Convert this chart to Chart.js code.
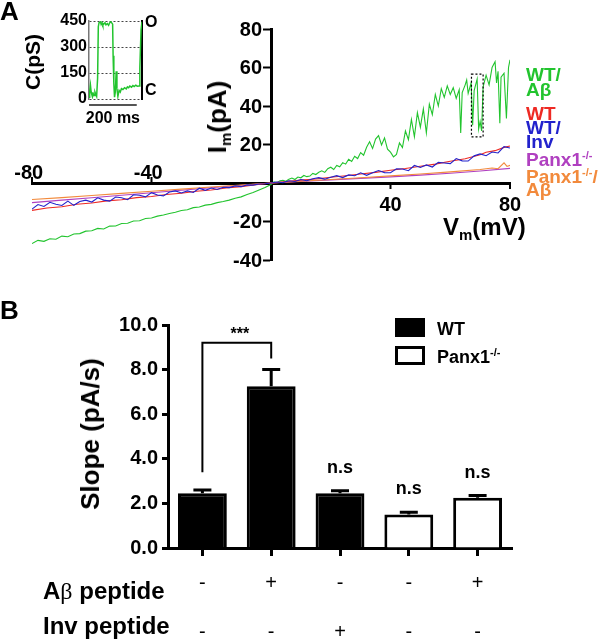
<!DOCTYPE html>
<html>
<head>
<meta charset="utf-8">
<title>Panx1 I/V ramps and slopes</title>
<script src="https://cdn.jsdelivr.net/npm/chart.js@4.4.1/dist/chart.umd.min.js"></script>
<style>
  body { margin: 0; background: #fff; }
  #page { position: relative; width: 602px; height: 640px; overflow: hidden;
          font-family: "Liberation Sans", Arial, sans-serif; font-weight: bold; color: #000; }
  .box { position: absolute; }
  .lbl { position: absolute; white-space: nowrap; line-height: 1; }
  .rot { position: absolute; white-space: nowrap; line-height: 1; transform: translate(-50%, -50%) rotate(-90deg); }
  sup { font-size: 11px; line-height: 0; vertical-align: 7px; }
  sub { font-size: 15px; line-height: 0; vertical-align: -5px; }
  .greek { font-family: "Liberation Serif", serif; font-weight: normal; }
  .swatch { position: absolute; box-sizing: border-box; border: 3px solid #000; }
</style>
</head>
<body>
<div id="page">
  <div class="box" style="left:0;top:0;width:602px;height:290px"><canvas id="ivChart"></canvas></div>
  <div class="box" style="left:0;top:0;width:160px;height:125px"><canvas id="insetChart"></canvas></div>
  <div class="box" style="left:0;top:290px;width:602px;height:350px"><canvas id="slopeChart"></canvas></div>

  <div class="lbl" style="left:0;top:-2px;font-size:26px">A</div>
  <div class="lbl" style="left:0;top:297px;font-size:26px">B</div>

  <!-- panel A titles -->
  <div class="rot" style="left:32px;top:62px;font-size:21px">C(pS)</div>
  <div class="rot" style="left:217px;top:117px;font-size:26px">I<sub>m</sub>(pA)</div>
  <div class="lbl" style="left:443px;top:215px;font-size:24px">V<sub>m</sub>(mV)</div>

  <!-- panel A legend -->
  <div class="lbl" style="left:526px;top:65px;font-size:19px;color:#22c42e">WT/</div>
  <div class="lbl" style="left:526px;top:80px;font-size:19px;color:#22c42e">Aβ</div>
  <div class="lbl" style="left:526px;top:104px;font-size:19px;color:#ee2a24">WT</div>
  <div class="lbl" style="left:526px;top:118px;font-size:19px;color:#2222cc">WT/</div>
  <div class="lbl" style="left:526px;top:132px;font-size:19px;color:#2222cc">Inv</div>
  <div class="lbl" style="left:526px;top:150px;font-size:19px;color:#b040c0">Panx1<sup>-/-</sup></div>
  <div class="lbl" style="left:526px;top:167px;font-size:19px;color:#f28a3c">Panx1<sup>-/-</sup>/</div>
  <div class="lbl" style="left:526px;top:180px;font-size:19px;color:#f28a3c">Aβ</div>

  <!-- panel B titles and legend -->
  <div class="rot" style="left:90px;top:434px;font-size:26px">Slope (pA/s)</div>
  <div class="swatch" style="left:395px;top:318px;width:30px;height:19px;background:#000"></div>
  <div class="swatch" style="left:395px;top:346px;width:30px;height:19px;background:#fff"></div>
  <div class="lbl" style="left:437px;top:320px;font-size:18px">WT</div>
  <div class="lbl" style="left:437px;top:348px;font-size:18px">Panx1<sup>-/-</sup></div>
  <div class="lbl" style="left:43px;top:579px;font-size:24px">A<span class="greek">β</span> peptide</div>
  <div class="lbl" style="left:43px;top:614px;font-size:24px">Inv peptide</div>
</div>

<script>
// ---- panel A: ramp currents, [Vm (mV), Im (pA)]
const wtAbeta = [
  [-80,-31.5],[-78,-29.8],[-76,-30.3],[-74,-29.0],[-72,-29.2],[-70,-27.6],[-68,-27.9],[-66,-26.5],
  [-64,-26.3],[-62,-25.0],[-60,-24.8],[-58,-23.6],[-56,-23.9],[-54,-22.4],[-52,-22.3],[-50,-21.0],
  [-48,-20.9],[-46,-19.7],[-44,-19.6],[-42,-18.4],[-40,-18.2],[-38,-17.2],[-36,-16.6],[-34,-15.8],
  [-32,-15.2],[-30,-14.3],[-28,-13.9],[-26,-12.8],[-24,-12.5],[-22,-11.5],[-20,-11.1],[-18,-10.2],
  [-16,-9.6],[-14,-8.9],[-12,-7.9],[-10,-7.2],[-8,-6.0],[-6,-4.9],[-4,-3.6],[-2,-2.3],[0,-0.8],
  [1,0.6],[2,0.2],[3,1.1],[4,1.4],[5,0.9],[6,2.0],[7,2.6],[8,1.8],[9,3.1],[10,2.7],[11,3.9],
  [12,3.3],[13,3.6],[14,5.0],[15,4.4],[16,5.6],[17,6.3],[18,5.5],[19,7.4],[20,8.2],[21,7.0],
  [22,9.1],[23,8.4],[24,10.6],[25,9.8],[26,12.3],[27,11.2],[28,13.9],[29,12.7],[30,15.8],
  [31,14.4],[32,18.6],[33,21.4],[34,17.9],[35,22.8],[36,24.6],[37,19.8],[38,23.4],[39,17.6],
  [40,16.0],[41,13.6],[42,14.9],[43,20.8],[44,18.4],[45,27.0],[46,22.5],[47,33.0],[48,24.0],
  [49,36.5],[50,29.0],[51,38.5],[52,26.0],[53,41.0],[54,35.5],[55,46.0],[56,40.0],[57,49.0],
  [58,44.5],[59,50.5],[60,46.0],[61,49.5],[62,44.0],[63,48.5],[63.5,26.0],[64,47.0],[65,51.0],
  [65.5,53.5],[66,46.5],[67,52.0],[67.5,30.0],[68,48.0],[69,54.0],[69.5,28.0],[70,32.0],
  [70.5,27.0],[71,50.0],[72,56.0],[73,51.0],[74,60.0],[75,63.0],[75.5,52.0],[76,58.0],
  [76.6,31.0],[77,55.0],[78,57.0],[78.8,33.5],[79.5,60.0],[80,64.0]
];
const wt = [
  [-80,-14.2],[-75,-13.0],[-70,-12.3],[-65,-11.0],[-60,-10.4],[-55,-9.3],[-50,-8.7],[-45,-7.6],
  [-40,-7.0],[-35,-6.0],[-30,-5.3],[-25,-4.3],[-20,-3.6],[-15,-2.6],[-10,-1.9],[-5,-0.9],[0,0],
  [5,0.8],[10,1.5],[15,2.1],[20,3.0],[25,3.8],[30,4.7],[35,5.5],[40,6.6],[45,7.5],[50,8.7],
  [55,9.8],[60,11.3],[65,12.6],[70,14.7],[72,16.0],[75,16.8],[78,18.5],[80,19.2]
];
const wtInv = [
  [-80,-13.6],[-78,-11.2],[-76,-12.2],[-74,-10.0],[-72,-11.0],[-70,-11.7],[-68,-9.4],[-66,-11.6],
  [-64,-9.6],[-62,-8.9],[-60,-9.9],[-58,-7.7],[-56,-8.9],[-54,-9.4],[-52,-7.3],[-50,-7.7],
  [-48,-8.7],[-46,-6.1],[-44,-6.4],[-42,-7.2],[-40,-5.0],[-38,-6.2],[-36,-6.7],[-34,-4.7],
  [-32,-4.1],[-30,-5.2],[-28,-4.1],[-26,-4.9],[-24,-2.7],[-22,-3.8],[-20,-2.6],[-18,-3.4],
  [-16,-2.2],[-14,-2.4],[-12,-1.5],[-10,-1.9],[-8,-1.0],[-6,-1.1],[-4,-0.5],[-2,-0.4],[0,0],
  [2,0.5],[4,0.2],[6,1.2],[8,0.8],[10,1.8],[12,1.2],[14,2.2],[16,2.8],[18,2.0],[20,3.0],
  [22,3.8],[24,2.8],[26,4.2],[28,3.8],[30,5.3],[32,4.0],[34,5.3],[36,6.5],[38,5.4],[40,5.3],
  [42,7.4],[44,7.3],[46,6.4],[48,9.1],[50,8.1],[52,9.4],[54,8.3],[56,10.7],[58,10.4],[60,10.1],
  [62,12.7],[64,11.5],[66,11.4],[68,14.1],[70,15.1],[72,14.2],[74,16.1],[76,15.6],[78,18.9],[80,18.2]
];
const panx = [
  [-80,-10.2],[-70,-8.9],[-60,-7.7],[-50,-6.4],[-40,-5.1],[-30,-3.8],[-20,-2.5],[-10,-1.2],[0,0],
  [10,0.8],[20,1.6],[30,2.4],[40,3.2],[50,4.1],[60,5.1],[70,6.2],[80,7.6]
];
const panxAbeta = [
  [-80,-8.6],[-70,-7.6],[-60,-6.5],[-50,-5.4],[-40,-4.3],[-30,-3.2],[-20,-2.1],[-10,-1.0],[0,0],
  [10,0.9],[20,1.8],[30,2.7],[40,3.7],[50,4.7],[60,5.8],[70,7.0],[74,7.8],[76,7.4],[78,10.5],
  [79,8.6],[80,9.2]
];
const ivXTicks = [-80, -40, 40, 80];
const zoomBox = [67.1, 71.0, 24, 56.6]; // Vm from, Vm to, Im from, Im to

// inset: single channel conductance, [time (ms), C (pS)]
const insetTrace = [
  [0,10],[3,45],[6,80],[9,40],[12,25],[15,15],[18,30],[21,20],[25,40],[29,25],[32,15],[36,120],
  [39,417],[42,440],[48,445],[51,430],[55,440],[58,425],[62,432],[67,440],[71,428],[77,435],
  [82,425],[87,440],[92,445],[96,438],[99,432],[101,250],[104,90],[107,10],[110,40],[114,160],
  [117,60],[121,15],[126,50],[131,40],[136,60],[142,55],[149,65],[156,58],[161,70],[166,65],
  [171,75],[178,68],[184,78],[189,72],[196,80],[202,74],[210,75],[213,180],[218,400],[222,445]
];
const insetTicks = [0, 150, 300, 450];
const insetStateLevels = [50, 440];
const insetStateNames = ['C', 'O'];
const insetBarMs = 200;

// ---- panel B: slopes
const groups = ['WT', 'WT/Aβ', 'WT/Inv', 'Panx1-/-', 'Panx1-/-/Aβ'];
const slopeMean = [2.45, 7.25, 2.45, 1.5, 2.25];
const slopeSem = [0.15, 0.75, 0.12, 0.1, 0.1];
const groupFill = ['#000', '#000', '#000', '#fff', '#fff'];
const abetaSigns = ['-', '+', '-', '-', '+'];
const invSigns = ['-', '-', '+', '-', '-'];
const sigText = ['', '', 'n.s', 'n.s', 'n.s'];
const bracketPair = [0, 1];
const bracketLevels = [9.2, 3.4, 8.5]; // top, left leg end, right leg end
const bracketText = '***';

const FONT = '"Liberation Sans", Arial, sans-serif';
Chart.defaults.font.family = FONT;
Chart.defaults.color = '#000';

function toXY(arr) {
    return arr.map(p => ({ x: p[0], y: p[1] }));
}

function trace(data, color) {
    return { data: toXY(data), borderColor: color, borderWidth: 1.1, pointRadius: 0, tension: 0 };
}

// axis labels and the dotted box for panel A
const ivExtras = {
    id: 'ivExtras',
    afterDraw(chart) {
        const { ctx, scales: { x, y } } = chart;
        const x0 = x.getPixelForValue(0);
        const y0 = y.getPixelForValue(0);
        ctx.save();
        ctx.fillStyle = '#000';
        ctx.strokeStyle = '#000';
        ctx.font = 'bold 20px ' + FONT;
        ctx.lineWidth = 2;

        // x ticks: negatives above the axis, positives below
        ctx.textAlign = 'center';
        ctx.textBaseline = 'alphabetic';
        ivXTicks.forEach(v => {
            const px = x.getPixelForValue(v);
            const shift = v < 0 ? ctx.measureText('-').width / 2 : 0;
            ctx.beginPath();
            ctx.moveTo(px, y0);
            ctx.lineTo(px, v < 0 ? y0 - 6 : y0 + 6);
            ctx.stroke();
            ctx.fillText(String(v), px - shift, v < 0 ? y0 - 4 : y0 + 28);
        });

        // y ticks labels (0 is left out)
        ctx.textAlign = 'right';
        ctx.textBaseline = 'middle';
        y.ticks.forEach(t => {
            if (t.value === 0) return;
            ctx.fillText(String(t.value), x0 - 9, y.getPixelForValue(t.value) + 1);
        });

        ctx.setLineDash([2, 2]);
        ctx.lineWidth = 1.2;
        const bx1 = x.getPixelForValue(zoomBox[0]), bx2 = x.getPixelForValue(zoomBox[1]);
        const by1 = y.getPixelForValue(zoomBox[3]), by2 = y.getPixelForValue(zoomBox[2]);
        ctx.strokeRect(bx1, by1, bx2 - bx1, by2 - by1);
        ctx.restore();
    }
};

new Chart(document.getElementById('ivChart'), {
    type: 'line',
    data: {
        datasets: [
            trace(wtInv, '#2222cc'),
            trace(wt, '#ee2a24'),
            trace(panxAbeta, '#f28a3c'),
            trace(panx, '#b040c0'),
            trace(wtAbeta, '#22c42e')
        ]
    },
    options: {
        responsive: true,
        maintainAspectRatio: false,
        animation: false,
        layout: { padding: { left: 32, right: 92, top: 29, bottom: 30 } },
        plugins: { legend: { display: false }, tooltip: { enabled: false } },
        scales: {
            x: {
                type: 'linear', min: -80, max: 80, position: { y: 0 },
                ticks: { display: false, stepSize: 40 },
                grid: { drawOnChartArea: false, drawTicks: false },
                border: { color: '#000', width: 3 }
            },
            y: {
                type: 'linear', min: -40, max: 80, position: { x: 0 },
                ticks: { display: false, stepSize: 20 },
                grid: { drawOnChartArea: false, drawTicks: true, tickLength: 7, tickWidth: 2, tickColor: '#000' },
                border: { color: '#000', width: 3 }
            }
        }
    },
    plugins: [ivExtras]
});

// scale bar under the inset
const insetExtras = {
    id: 'insetExtras',
    afterDraw(chart) {
        const { ctx, chartArea, scales: { x } } = chart;
        const yb = chartArea.bottom + 6;
        const xa = x.getPixelForValue(0), xb = x.getPixelForValue(insetBarMs);
        ctx.save();
        ctx.strokeStyle = '#555';
        ctx.lineWidth = 2;
        ctx.beginPath();
        ctx.moveTo(xa, yb);
        ctx.lineTo(xb, yb);
        ctx.stroke();
        ctx.fillStyle = '#000';
        ctx.font = 'bold 16px ' + FONT;
        ctx.textAlign = 'center';
        ctx.fillText(insetBarMs + ' ms', (xa + xb) / 2, yb + 18);
        ctx.restore();
    }
};

new Chart(document.getElementById('insetChart'), {
    type: 'line',
    data: { datasets: [{ data: toXY(insetTrace), borderColor: '#22c42e', borderWidth: 1.5, pointRadius: 0, yAxisID: 'y' }] },
    options: {
        responsive: true,
        maintainAspectRatio: false,
        animation: false,
        layout: { padding: { left: 40, right: 2, top: 21, bottom: 26 } },
        plugins: { legend: { display: false }, tooltip: { enabled: false } },
        scales: {
            x: { type: 'linear', min: 0, max: 222, display: false },
            y: {
                min: 0, max: 450,
                afterBuildTicks: axis => { axis.ticks = insetTicks.map(v => ({ value: v })); },
                ticks: { font: { size: 16, weight: 'bold' }, padding: 2 },
                grid: { color: '#444', lineWidth: 1, drawTicks: false },
                border: { color: '#777', width: 1.5, dash: [2, 2] },
                afterFit: axis => { axis.width = 49; }
            },
            y2: {
                position: 'right', min: 0, max: 450,
                afterBuildTicks: axis => { axis.ticks = insetStateLevels.map(v => ({ value: v })); },
                ticks: {
                    font: { size: 16, weight: 'bold' }, padding: 3,
                    callback: v => insetStateNames[insetStateLevels.indexOf(v)]
                },
                grid: { drawOnChartArea: false, drawTicks: false },
                border: { color: '#000', width: 2 },
                afterFit: axis => { axis.width = 16; }
            }
        }
    },
    plugins: [insetExtras]
});

// error bars, significance marks and condition rows for panel B
const slopeExtras = {
    id: 'slopeExtras',
    afterDatasetsDraw(chart) {
        const { ctx, chartArea, scales: { x, y } } = chart;
        ctx.save();
        ctx.strokeStyle = '#000';
        ctx.fillStyle = '#000';
        ctx.lineWidth = 3;
        ctx.textAlign = 'center';
        ctx.textBaseline = 'alphabetic';
        ctx.font = 'bold 18px ' + FONT;
        slopeMean.forEach((m, i) => {
            const px = x.getPixelForValue(i);
            const top = y.getPixelForValue(m + slopeSem[i]);
            ctx.beginPath();
            ctx.moveTo(px, y.getPixelForValue(m));
            ctx.lineTo(px, top);
            ctx.moveTo(px - 9, top);
            ctx.lineTo(px + 9, top);
            ctx.stroke();
            if (sigText[i]) ctx.fillText(sigText[i], px, top - 18);
        });

        const xa = x.getPixelForValue(bracketPair[0]);
        const xb = x.getPixelForValue(bracketPair[1]);
        const yt = y.getPixelForValue(bracketLevels[0]);
        ctx.lineWidth = 2;
        ctx.beginPath();
        ctx.moveTo(xa, y.getPixelForValue(bracketLevels[1]));
        ctx.lineTo(xa, yt);
        ctx.lineTo(xb, yt);
        ctx.lineTo(xb, y.getPixelForValue(bracketLevels[2]));
        ctx.stroke();
        ctx.font = 'bold 16px ' + FONT;
        ctx.fillText(bracketText, (xa + xb) / 2 + 3, yt - 4);

        ctx.font = '20px ' + FONT;
        ctx.textBaseline = 'middle';
        groups.forEach((g, i) => {
            const px = x.getPixelForValue(i);
            ctx.fillText(abetaSigns[i], px, chartArea.bottom + 35);
            ctx.fillText(invSigns[i], px, chartArea.bottom + 84);
        });
        ctx.restore();
    }
};

new Chart(document.getElementById('slopeChart'), {
    type: 'bar',
    data: {
        labels: groups,
        datasets: [{
            data: slopeMean,
            backgroundColor: groupFill,
            borderColor: '#000',
            borderWidth: 3,
            barPercentage: 0.71,
            categoryPercentage: 1
        }]
    },
    options: {
        responsive: true,
        maintainAspectRatio: false,
        animation: false,
        layout: { padding: { left: 74, right: 90, top: 35, bottom: 82 } },
        plugins: { legend: { display: false }, tooltip: { enabled: false } },
        scales: {
            x: {
                ticks: { display: false },
                grid: { offset: false, drawOnChartArea: false, tickLength: 8, tickWidth: 3, tickColor: '#000' },
                border: { color: '#000', width: 3 },
                afterFit: axis => { axis.height = 10; }
            },
            y: {
                min: 0, max: 10,
                ticks: { stepSize: 2, font: { size: 20, weight: 'bold' }, padding: 4, callback: v => v.toFixed(1) },
                grid: { drawOnChartArea: false, tickLength: 6, tickWidth: 3, tickColor: '#000' },
                border: { color: '#000', width: 3 },
                afterFit: axis => { axis.width = 94; }
            }
        }
    },
    plugins: [slopeExtras]
});
</script>
</body>
</html>
